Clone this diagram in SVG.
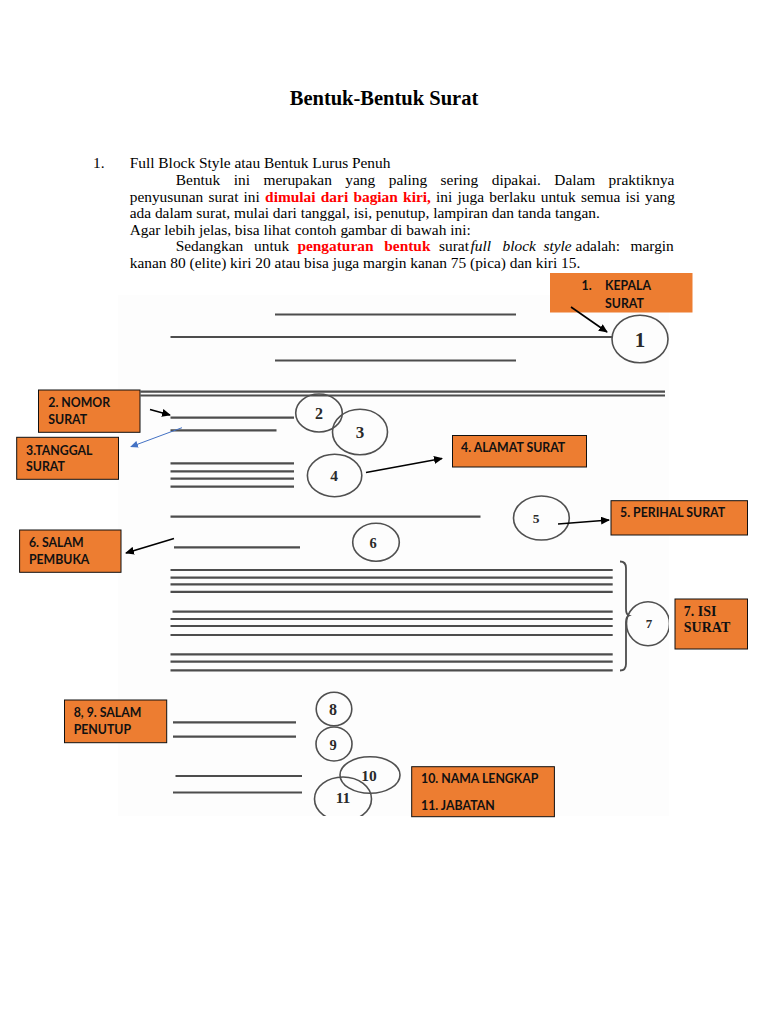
<svg xmlns="http://www.w3.org/2000/svg" width="768" height="1024" viewBox="0 0 768 1024">
<style>
.t{font-family:"Liberation Serif","Times New Roman",serif;font-size:15.4px;fill:#000}
.b{font-weight:bold}
.red{font-weight:bold;fill:#ff0000}
.it{font-style:italic}
.ln{stroke:#4d4d4d;stroke-width:2.2;fill:none}
.cir{stroke:#505050;stroke-width:1.6;fill:none}
.num{font-family:"Liberation Serif","Times New Roman",serif;font-weight:bold;fill:#2a2a2a;text-anchor:middle}
.box{fill:#ed7d31;stroke:#111;stroke-width:1}
.lab{font-family:Lato,"Liberation Sans",sans-serif;font-weight:bold;font-size:12.3px;fill:#111}
.arr{stroke:#000;stroke-width:1.6;fill:none}
</style>
<defs>
<marker id="ah" markerWidth="9" markerHeight="8" refX="8" refY="4" orient="auto" markerUnits="userSpaceOnUse"><path d="M0,0 L9,4 L0,8 z" fill="#000"/></marker>
<marker id="ahb" markerWidth="8" markerHeight="7" refX="7" refY="3.5" orient="auto" markerUnits="userSpaceOnUse"><path d="M0,0 L8,3.5 L0,7 z" fill="#4472c4"/></marker>
<clipPath id="img"><rect x="118" y="295" width="551" height="521"/></clipPath>
</defs>
<rect width="768" height="1024" fill="#fff"/>

<g id="heading">
<text x="384" y="105" text-anchor="middle" class="t b" style="font-size:20.5px">Bentuk-Bentuk Surat</text>
<text x="93" y="168.3" class="t">1.</text>
<text x="129.7" y="168.3" class="t">Full Block Style atau Bentuk Lurus Penuh</text>
<text y="185" class="t"><tspan x="175.8">Bentuk</tspan><tspan x="233.7">ini</tspan><tspan x="263.5">merupakan</tspan><tspan x="345.3">yang</tspan><tspan x="388.7">paling</tspan><tspan x="440.6">sering</tspan><tspan x="491.7">dipakai.</tspan><tspan x="554.3">Dalam</tspan><tspan x="608.6">praktiknya</tspan></text>
<text y="201.5" class="t"><tspan x="129.7">penyusunan</tspan><tspan x="208.5">surat</tspan><tspan x="243.6">ini</tspan><tspan x="265.1" class="red">dimulai</tspan><tspan x="320.8" class="red">dari</tspan><tspan x="353.4" class="red">bagian</tspan><tspan x="403.1" class="red">kiri,</tspan><tspan x="436.1">ini</tspan><tspan x="457.6">juga</tspan><tspan x="489.3">berlaku</tspan><tspan x="540.7">untuk</tspan><tspan x="581">semua</tspan><tspan x="625.5">isi</tspan><tspan x="645">yang</tspan></text>
<text x="129.7" y="218" class="t">ada dalam surat, mulai dari tanggal, isi, penutup, lampiran dan tanda tangan.</text>
<text x="129.7" y="234.5" class="t">Agar lebih jelas, bisa lihat contoh gambar di bawah ini:</text>
<text y="251" class="t"><tspan x="175.7">Sedangkan</tspan><tspan x="254.1">untuk</tspan><tspan x="297.4" class="red">pengaturan</tspan><tspan x="384.3" class="red">bentuk</tspan><tspan x="439">surat</tspan><tspan x="470.5" class="it">full</tspan><tspan x="502.5" class="it">block</tspan><tspan x="543.5" class="it">style</tspan><tspan x="575.6">adalah:</tspan><tspan x="630.5">margin</tspan></text>
<text x="129.7" y="267.5" class="t">kanan 80 (elite) kiri 20 atau bisa juga margin kanan 75 (pica) dan kiri 15.</text>
</g>

<rect x="118" y="295" width="551" height="521" fill="#fdfdfd"/>

<g id="letter" clip-path="url(#img)">
<line class="ln" x1="275" y1="314.5" x2="516" y2="314.5"/>
<line class="ln" x1="170.5" y1="337" x2="612" y2="337"/>
<line class="ln" x1="275" y1="360.5" x2="516" y2="360.5"/>
<line class="ln" x1="140.5" y1="391.7" x2="665" y2="391.7"/>
<line class="ln" x1="140.5" y1="395.5" x2="665" y2="395.5"/>
<line class="ln" x1="170.5" y1="417.7" x2="294" y2="417.7"/>
<line class="ln" x1="170.5" y1="430.3" x2="276.5" y2="430.3"/>
<line class="ln" x1="170.5" y1="463.3" x2="294" y2="463.3"/>
<line class="ln" x1="170.5" y1="471.3" x2="294" y2="471.3"/>
<line class="ln" x1="170.5" y1="478.7" x2="294" y2="478.7"/>
<line class="ln" x1="170.5" y1="486.7" x2="294" y2="486.7"/>
<line class="ln" x1="170.5" y1="516.7" x2="480.5" y2="516.7"/>
<line class="ln" x1="174" y1="547.3" x2="300" y2="547.3"/>
<line class="ln" x1="170.5" y1="570" x2="612.7" y2="570"/>
<line class="ln" x1="170.5" y1="577.7" x2="612.7" y2="577.7"/>
<line class="ln" x1="170.5" y1="584.3" x2="612.7" y2="584.3"/>
<line class="ln" x1="170.5" y1="591.9" x2="612.7" y2="591.9"/>
<line class="ln" x1="172.5" y1="611.7" x2="612.7" y2="611.7"/>
<line class="ln" x1="170.5" y1="619" x2="612.7" y2="619"/>
<line class="ln" x1="170.5" y1="626" x2="612.7" y2="626"/>
<line class="ln" x1="170.5" y1="635" x2="612.7" y2="635"/>
<line class="ln" x1="170.5" y1="654.3" x2="612.7" y2="654.3"/>
<line class="ln" x1="170.5" y1="661.7" x2="612.7" y2="661.7"/>
<line class="ln" x1="170.5" y1="670.3" x2="612.7" y2="670.3"/>
<path class="ln" style="stroke-width:1.8" d="M620,561.5 Q626,561.5 626,568 L626,609 Q626,614.5 629,615.5 Q626,616.5 626,622 L626,664 Q626,670.5 620,670.5"/>
<line class="ln" x1="173" y1="722.3" x2="296" y2="722.3"/>
<line class="ln" x1="173" y1="736.7" x2="296" y2="736.7"/>
<line class="ln" x1="175.5" y1="776" x2="302" y2="776"/>
<line class="ln" x1="173" y1="792.5" x2="302" y2="792.5"/>
</g>

<g id="circles" clip-path="url(#img)">
<g id="c1"><ellipse class="cir" cx="640" cy="339" rx="28" ry="23.8"/><text class="num" x="640" y="346.5" font-size="21">1</text></g>
<g id="c2"><ellipse class="cir" cx="319" cy="413" rx="23.3" ry="19"/><text class="num" x="319" y="418.5" font-size="16">2</text></g>
<g id="c3"><ellipse class="cir" cx="360" cy="432" rx="27.5" ry="22.8"/><text class="num" x="360" y="438" font-size="17">3</text></g>
<g id="c4"><ellipse class="cir" cx="334.6" cy="475.5" rx="27.2" ry="21.2"/><text class="num" x="334" y="481" font-size="15.5">4</text></g>
<g id="c5"><ellipse class="cir" cx="541.4" cy="518" rx="27.9" ry="22"/><text class="num" x="536" y="522.5" font-size="13.5">5</text></g>
<g id="c6"><ellipse class="cir" cx="376" cy="542.2" rx="23.3" ry="19"/><text class="num" x="373" y="547.5" font-size="14.5">6</text></g>
<g id="c7"><ellipse class="cir" cx="648" cy="623.7" rx="21.5" ry="22"/><text class="num" x="649" y="628" font-size="13">7</text></g>
<g id="c8"><ellipse class="cir" cx="334" cy="709" rx="17.8" ry="16.7"/><text class="num" x="333" y="715" font-size="16">8</text></g>
<g id="c9"><ellipse class="cir" cx="334" cy="744" rx="18" ry="17"/><text class="num" x="333" y="749.5" font-size="14.5">9</text></g>
<g id="c10"><ellipse class="cir" cx="370" cy="775" rx="30" ry="18.3"/><text class="num" x="369" y="781" font-size="15.5">10</text></g>
<g id="c11"><ellipse class="cir" cx="343" cy="799" rx="28.5" ry="22"/><text class="num" x="343" y="803" font-size="15.5">11</text></g>
</g>

<g id="b1"><rect x="550" y="273" width="142.5" height="39.5" fill="#ed7d31"/><text class="lab" x="581.5" y="290">1.</text><text class="lab" x="605" y="290">KEPALA</text><text class="lab" x="605" y="307.5">SURAT</text></g>
<g id="b2"><rect class="box" x="38.5" y="390" width="101.5" height="42.3"/><text class="lab" x="48.3" y="407.3">2. NOMOR</text><text class="lab" x="48.3" y="424">SURAT</text></g>
<g id="b3"><rect class="box" x="16.7" y="437.3" width="101.8" height="42"/><text class="lab" x="26" y="455">3.TANGGAL</text><text class="lab" x="26" y="471">SURAT</text></g>
<g id="b4"><rect class="box" x="452.5" y="435.5" width="134" height="31.5"/><text class="lab" x="461" y="451.7">4. ALAMAT SURAT</text></g>
<g id="b5"><rect class="box" x="611" y="500.7" width="136.5" height="34.3"/><text class="lab" x="620" y="517.3">5. PERIHAL SURAT</text></g>
<g id="b6"><rect class="box" x="19.6" y="530" width="101.4" height="42.3"/><text class="lab" x="28.9" y="547.3">6. SALAM</text><text class="lab" x="28.9" y="564">PEMBUKA</text></g>
<g id="b7"><rect class="box" x="675" y="599" width="72.5" height="50"/><text class="t b" x="683.8" y="615.7" style="font-size:14px;fill:#111">7. ISI</text><text class="t b" x="683.8" y="631.7" style="font-size:14px;fill:#111">SURAT</text></g>
<g id="b8"><rect class="box" x="64.5" y="700" width="102.2" height="42.7"/><text class="lab" x="73.7" y="717.3">8, 9. SALAM</text><text class="lab" x="73.7" y="734">PENUTUP</text></g>
<g id="b10"><rect class="box" x="411.7" y="766.7" width="142.7" height="50"/><text class="lab" x="421" y="782.7">10. NAMA LENGKAP</text><text class="lab" x="421" y="810">11. JABATAN</text></g>

<g id="connectors">
<line class="arr" x1="571" y1="307" x2="607" y2="332" marker-end="url(#ah)"/>
<line class="arr" x1="150" y1="409.5" x2="170" y2="415" marker-end="url(#ah)"/>
<line x1="182" y1="427.7" x2="131" y2="446.7" stroke="#4472c4" stroke-width="1" marker-end="url(#ahb)"/>
<line class="arr" x1="366" y1="472.5" x2="442" y2="458.5" marker-end="url(#ah)"/>
<line class="arr" x1="558" y1="524" x2="609" y2="520" marker-end="url(#ah)"/>
<line class="arr" x1="174" y1="538.5" x2="126" y2="553" marker-end="url(#ah)"/>
</g>
</svg>
